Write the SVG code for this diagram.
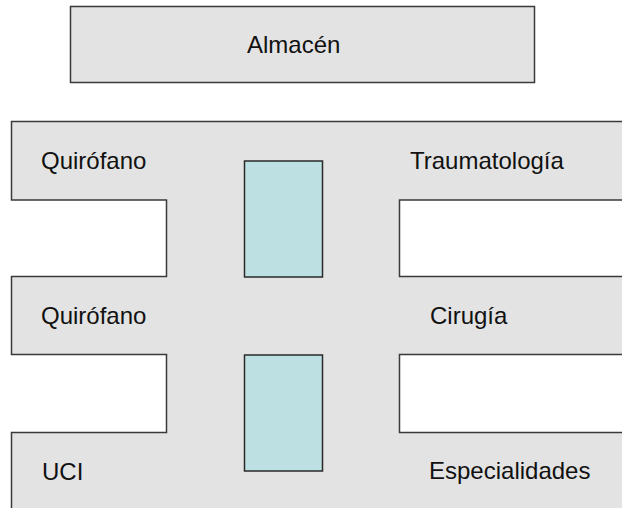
<svg xmlns="http://www.w3.org/2000/svg" width="622" height="508" viewBox="0 0 622 508">
  <style>
    .area { fill: #e3e3e3; stroke: #3a3a3a; stroke-width: 1.5; }
    .hole { fill: #bde0e2; stroke: #2a2a2a; stroke-width: 1.5; }
    .lbl { font-family: "Liberation Sans", Arial, sans-serif; font-size: 24px; fill: #111; }
  </style>
  <rect width="622" height="508" fill="#ffffff"/>
  <g id="almacen">
    <rect class="area" x="70.5" y="6.5" width="464" height="76"/>
    <text class="lbl" x="247" y="53">Almacén</text>
  </g>
  <g id="planta">
    <path class="area" d="M11.5 121.5 H626 V200 H399.5 V276.5 H626 V354.5 H399.5 V432.5 H626 V512 H11.5 V432.5 H166.5 V354.5 H11.5 V276.5 H166.5 V200 H11.5 Z"/>
  </g>
  <g id="quirofano1"><text class="lbl" x="41" y="169">Quirófano</text></g>
  <g id="traumatologia"><text class="lbl" x="410" y="169">Traumatología</text></g>
  <g id="quirofano2"><text class="lbl" x="41" y="324">Quirófano</text></g>
  <g id="cirugia"><text class="lbl" x="430" y="324">Cirugía</text></g>
  <g id="uci"><text class="lbl" x="42" y="480">UCI</text></g>
  <g id="especialidades"><text class="lbl" x="429" y="479">Especialidades</text></g>
  <g id="patio1"><rect class="hole" x="244.5" y="161" width="78" height="116"/></g>
  <g id="patio2"><rect class="hole" x="244.5" y="355" width="78" height="116"/></g>
  <g id="connectors"></g>
</svg>
